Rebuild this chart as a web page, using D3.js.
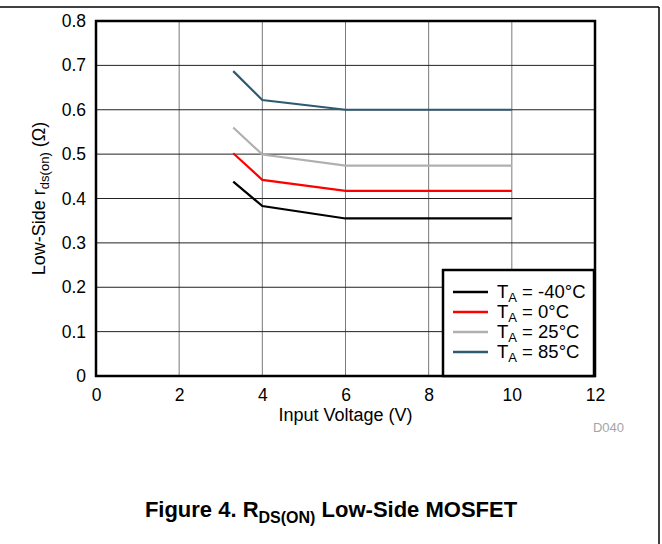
<!DOCTYPE html>
<html>
<head>
<meta charset="utf-8">
<script src="https://cdn.jsdelivr.net/npm/d3@7"></script>
<style>
  body { margin: 0; background: #fff; }
  svg { display: block; }
  svg text { font-family: Arial, "Liberation Sans", Helvetica, sans-serif; }
</style>
</head>
<body>
<div id="root"></div>
<script>
// data
const voltages = [3.3, 4, 6, 10];
const seriesNames = ['-40°C', '0°C', '25°C', '85°C'];
const seriesColors = ['#000000', '#ff0000', '#b0b0b0', '#2e5a72'];
const rM40 = [0.438, 0.383, 0.355, 0.355];
const r0 = [0.502, 0.442, 0.417, 0.417];
const r25 = [0.560, 0.499, 0.474, 0.474];
const r85 = [0.687, 0.622, 0.600, 0.600];
const xTicks = [0, 2, 4, 6, 8, 10, 12];
const yTicks = [0, 0.1, 0.2, 0.3, 0.4, 0.5, 0.6, 0.7, 0.8];

const seriesValues = [rM40, r0, r25, r85];

const width = 662;
const height = 544;
const plot = { left: 96, right: 595, top: 21, bottom: 376 };

const svg = d3.select('#root')
  .append('svg')
  .attr('width', width)
  .attr('height', height);

// outer page frame (top and right edges)
svg.append('line')
  .attr('x1', 0).attr('x2', 659).attr('y1', 7).attr('y2', 7)
  .attr('stroke', '#000').attr('stroke-width', 1.5);
svg.append('line')
  .attr('x1', 659).attr('x2', 659).attr('y1', 7).attr('y2', height)
  .attr('stroke', '#000').attr('stroke-width', 1.5);

const x = d3.scaleLinear().domain([0, 12]).range([plot.left, plot.right]);
const y = d3.scaleLinear().domain([0, 0.8]).range([plot.bottom, plot.top]);

// grid
svg.append('g')
  .selectAll('line')
  .data(xTicks.slice(1, -1))
  .join('line')
  .attr('x1', d => x(d)).attr('x2', d => x(d))
  .attr('y1', plot.top).attr('y2', plot.bottom)
  .attr('stroke', '#7a7a7a').attr('stroke-width', 1);

svg.append('g')
  .selectAll('line')
  .data(yTicks.slice(1, -1))
  .join('line')
  .attr('x1', plot.left).attr('x2', plot.right)
  .attr('y1', d => y(d)).attr('y2', d => y(d))
  .attr('stroke', '#222').attr('stroke-width', 1);

// axes (labels only, frame drawn separately)
const xAxis = svg.append('g')
  .attr('transform', `translate(0, ${plot.bottom})`)
  .call(d3.axisBottom(x).tickValues(xTicks).tickSize(0).tickPadding(13).tickFormat(d3.format('d')));
const yAxis = svg.append('g')
  .attr('transform', `translate(${plot.left}, 0)`)
  .call(d3.axisLeft(y).tickValues(yTicks).tickSize(0).tickPadding(10).tickFormat(d => d === 0 ? '0' : d3.format('.1f')(d)));
[xAxis, yAxis].forEach(a => {
  a.attr('font-family', null).attr('font-size', null);
  a.select('.domain').remove();
  a.selectAll('text')
    .style('font-size', '17.5px')
    .attr('fill', '#000');
});

// data lines
const line = d3.line()
  .x((d, i) => x(voltages[i]))
  .y(d => y(d));

svg.append('g')
  .selectAll('path')
  .data(seriesValues)
  .join('path')
  .attr('d', d => line(d))
  .attr('fill', 'none')
  .attr('stroke', (d, i) => seriesColors[i])
  .attr('stroke-width', 2.2);

// plot frame
svg.append('rect')
  .attr('x', plot.left).attr('y', plot.top)
  .attr('width', plot.right - plot.left)
  .attr('height', plot.bottom - plot.top)
  .attr('fill', 'none').attr('stroke', '#000').attr('stroke-width', 2.5);

// legend
const legend = svg.append('g').attr('transform', 'translate(443, 270)');
legend.append('rect')
  .attr('width', 151).attr('height', 106)
  .attr('fill', '#fff').attr('stroke', '#000').attr('stroke-width', 2.5);

const rows = legend.selectAll('g.row')
  .data(seriesNames)
  .join('g')
  .attr('class', 'row')
  .attr('transform', (d, i) => `translate(0, ${22 + i * 20})`);
rows.append('line')
  .attr('x1', 10).attr('x2', 45)
  .attr('stroke', (d, i) => seriesColors[i])
  .attr('stroke-width', 2.4);
const lt = rows.append('text')
  .attr('x', 54).attr('y', 6)
  .style('font-size', '18.5px')
  .attr('fill', '#000');
lt.append('tspan').text('T');
lt.append('tspan').style('font-size', '13px').attr('dy', 4).text('A');
lt.append('tspan').attr('dy', -4).text(d => ' = ' + d);

// axis titles
svg.append('text')
  .attr('x', x(6)).attr('y', 421)
  .attr('text-anchor', 'middle')
  .style('font-size', '18px')
  .text('Input Voltage (V)');

const yt = svg.append('text')
  .attr('transform', `translate(45, ${y(0.4)}) rotate(-90)`)
  .attr('text-anchor', 'middle')
  .style('font-size', '18px');
yt.append('tspan').text('Low-Side r');
yt.append('tspan').style('font-size', '13px').attr('dy', 4).text('ds(on)');
yt.append('tspan').attr('dy', -4).text(' (Ω)');

svg.append('text')
  .attr('x', 624).attr('y', 432)
  .attr('text-anchor', 'end')
  .style('font-size', '13px')
  .attr('fill', '#a5a5a5')
  .text('D040');

// figure caption
const cap = svg.append('text')
  .attr('x', 331).attr('y', 517)
  .attr('text-anchor', 'middle')
  .style('font-size', '22px')
  .attr('font-weight', 'bold');
cap.append('tspan').text('Figure 4. R');
cap.append('tspan').style('font-size', '16px').attr('dy', 6).text('DS(ON)');
cap.append('tspan').attr('dy', -6).text(' Low-Side MOSFET');
</script>
</body>
</html>
